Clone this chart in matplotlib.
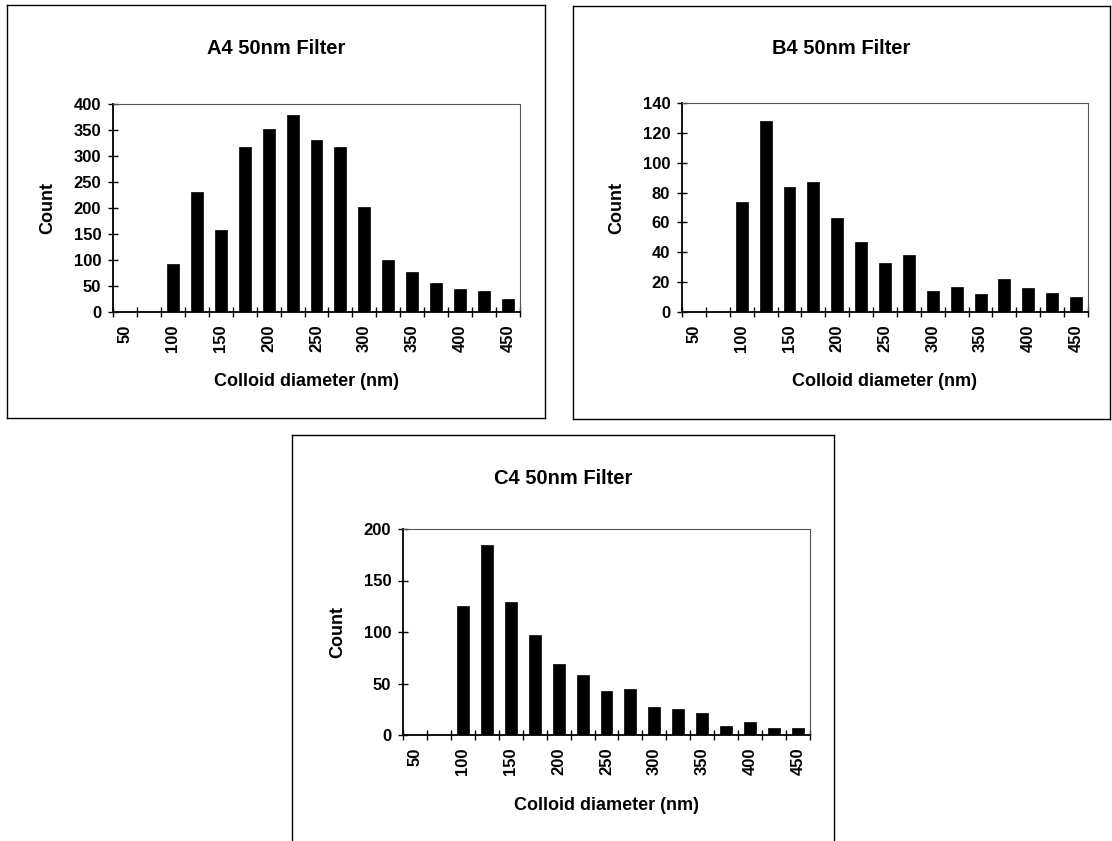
import matplotlib
matplotlib.use("Agg")
import matplotlib.pyplot as plt
from matplotlib.lines import Line2D

plt.rcParams['font.family'] = ['Liberation Sans', 'DejaVu Sans']

# ---- data ----
diameters = [50, 75, 100, 125, 150, 175, 200, 225, 250, 275, 300, 325, 350, 375, 400, 425, 450]
tick_labels = ["50", "100", "150", "200", "250", "300", "350", "400", "450"]
counts_A4 = [0, 0, 93, 230, 157, 318, 351, 378, 330, 318, 201, 100, 77, 56, 44, 40, 25]
counts_B4 = [0, 0, 74, 128, 84, 87, 63, 47, 33, 38, 14, 17, 12, 22, 16, 13, 10]
counts_C4 = [0, 0, 125, 184, 129, 97, 69, 58, 43, 45, 27, 25, 21, 9, 13, 7, 7]
titles = ["A4 50nm Filter", "B4 50nm Filter", "C4 50nm Filter"]
y_max = [400, 140, 200]
y_step = [50, 20, 50]

W, H = 1112, 841
fig = plt.figure(figsize=(W / 100, H / 100), dpi=100)
fig.patch.set_facecolor("white")


def fx(x):
    return x / W


def fy(y):
    return 1 - y / H


def add_frame(x0, y0, x1, y1, open_bottom=False):
    kw = dict(color="black", lw=1.0, transform=fig.transFigure)
    fig.add_artist(Line2D([fx(x0), fx(x1)], [fy(y0), fy(y0)], **kw))
    fig.add_artist(Line2D([fx(x0), fx(x0)], [fy(y0), fy(y1)], **kw))
    fig.add_artist(Line2D([fx(x1), fx(x1)], [fy(y0), fy(y1)], **kw))
    if not open_bottom:
        fig.add_artist(Line2D([fx(x0), fx(x1)], [fy(y1), fy(y1)], **kw))


def panel(plot_box, frame_box, counts, title, ymax, ystep, xlabel_cx, open_bottom=False):
    px0, py0, px1, py1 = plot_box
    fx0, fy0, fx1, fy1 = frame_box
    add_frame(fx0, fy0, fx1, fy1, open_bottom)
    ax = fig.add_axes([fx(px0), fy(py1), fx(px1) - fx(px0), fy(py0) - fy(py1)])
    n = len(diameters)
    xs = list(range(n))
    ax.bar(xs, counts, width=0.5, color="black", edgecolor="black", linewidth=0.5)
    ax.set_xlim(-0.5, n - 0.5)
    ax.set_ylim(0, ymax)
    # ticks at category boundaries, labels on every other category
    ax.set_xticks([i - 0.5 for i in range(n + 1)])
    ax.set_xticklabels([])
    ax.set_xticks(xs[::2], minor=True)
    ax.set_xticklabels(tick_labels, minor=True, rotation=90, fontsize=12, fontweight="bold")
    ax.tick_params(axis="x", which="major", direction="inout", length=7, width=1)
    ax.tick_params(axis="x", which="minor", length=0, pad=9)
    yt = list(range(0, ymax + 1, ystep))
    ax.set_yticks(yt)
    ax.set_yticklabels([str(v) for v in yt], fontsize=12, fontweight="bold")
    ax.tick_params(axis="y", direction="inout", length=7, width=1, pad=5)
    for s in ("left", "bottom"):
        ax.spines[s].set_linewidth(1.3)
        ax.spines[s].set_color("black")
    for s in ("top", "right"):
        ax.spines[s].set_linewidth(0.8)
        ax.spines[s].set_color("#555555")
        ax.spines[s].set_linestyle((0, (1, 1)))
    # texts
    fig.text(fx((fx0 + fx1) / 2), fy(48 + fy0 - 5), title, ha="center", va="center",
             fontsize=14.5, fontweight="bold")
    fig.text(fx(xlabel_cx), fy(py1 + 70), "Colloid diameter (nm)", ha="center",
             va="center", fontsize=13, fontweight="bold")
    fig.text(fx(px0 - 65), fy((py0 + py1) / 2), "Count", ha="center", va="center",
             rotation=90, fontsize=13, fontweight="bold")
    return ax


panel((113, 104, 520, 312), (7, 5, 545, 418), counts_A4, titles[0], y_max[0], y_step[0], 306)
panel((682, 103, 1088, 312), (573, 6, 1110, 419), counts_B4, titles[1], y_max[1], y_step[1], 885)
panel((403, 529, 810, 735), (292, 435, 834, 845), counts_C4, titles[2], y_max[2], y_step[2], 606,
      open_bottom=True)

fig.savefig("out.png", dpi=100, facecolor="white")
